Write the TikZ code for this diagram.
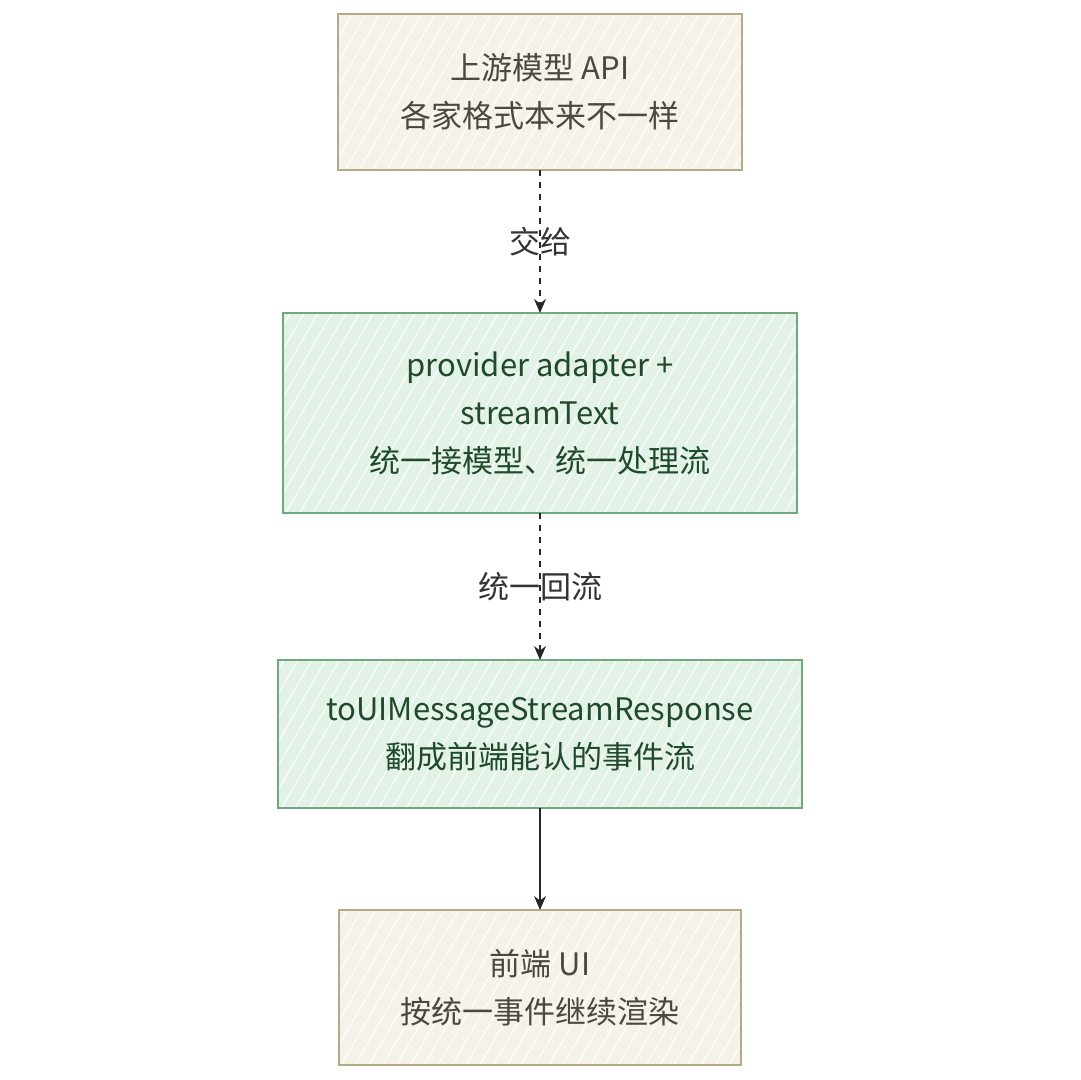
\documentclass[tikz,border=0pt]{standalone}
\usepackage{fontspec}
\setmainfont{Noto Sans CJK SC}
\usepackage{tikz}
\usetikzlibrary{arrows.meta,positioning,patterns.meta}
\definecolor{sandfill}{HTML}{F5F2EA}
\definecolor{sandline}{HTML}{B5A987}
\definecolor{sandtext}{HTML}{4A4840}
\definecolor{mintfill}{HTML}{E3F2E7}
\definecolor{mintline}{HTML}{6FAA7E}
\definecolor{minttext}{HTML}{1F4A2C}
\definecolor{linktext}{HTML}{333333}
\begin{document}
\begin{tikzpicture}[x=0.5pt,y=-0.5pt,>={Stealth[length=7pt,width=6pt]},
  font=\fontsize{15.5pt}{24pt}\selectfont,
  b/.style={draw,line width=0.8pt,align=center,outer sep=0pt},
  sand/.style={b,draw=sandline,text=sandtext,preaction={fill=sandfill},
    preaction={pattern={Lines[angle=60,distance=6pt,line width=0.5pt]},pattern color=white}},
  mint/.style={b,draw=mintline,text=minttext,preaction={fill=mintfill},
    preaction={pattern={Lines[angle=60,distance=6pt,line width=0.5pt]},pattern color=white}},
  link/.style={->,line width=0.7pt,draw=black!85},
  tag/.style={text=linktext,inner sep=2pt}]
\useasboundingbox (0,0) rectangle (1080,1080);
\node[sand,minimum width=202pt,minimum height=78pt] (api) at (540,92) {上游模型 API\\各家格式本来不一样};
\node[mint,minimum width=257pt,minimum height=100pt,below=71.5pt of api] (adapter) {provider adapter +\\streamText\\统一接模型、统一处理流};
\node[mint,minimum width=262pt,minimum height=74pt,below=73.5pt of adapter] (resp) {toUIMessageStreamResponse\\翻成前端能认的事件流};
\node[sand,minimum width=201pt,minimum height=77.5pt,below=51pt of resp] (ui) {前端 UI\\按统一事件继续渲染};
\draw[link,dashed] (api) -- node[tag] (hand) {交给} (adapter);
\draw[link,dashed] (adapter) -- node[tag] (back) {统一回流} (resp);
\draw[link] (resp) -- (ui);
\end{tikzpicture}
\end{document}
